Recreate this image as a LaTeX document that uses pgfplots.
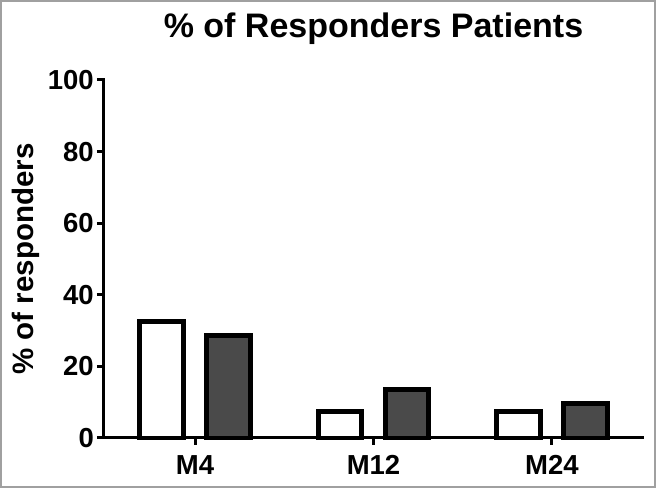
\documentclass[border=0pt]{standalone}
\usepackage{pgfplots}
\pgfplotsset{compat=1.18}
\usepackage{fontspec}
\setmainfont{Liberation Sans}
\definecolor{darkbar}{HTML}{4A4A4A}
\definecolor{framegray}{HTML}{A0A0A0}
\begin{document}
\begin{tikzpicture}
\useasboundingbox (-104pt,-51pt) rectangle (553pt,438pt);
\begin{axis}[
  at={(0pt,0pt)}, anchor=south west,
  scale only axis, width=539pt, height=358pt,
  xmin=-0.51, xmax=2.51, ymin=0, ymax=100,
  axis x line*=bottom, axis y line*=left,
  axis line style={line width=3pt, line cap=rect},
  xtick={0,1,2}, xticklabels={M4,M12,M24},
  ytick={0,20,40,60,80,100},
  tick align=outside,
  major tick length=7pt,
  tick style={line width=3pt, black},
  every tick label/.append style={font=\fontsize{27.5}{32}\selectfont\bfseries},
  /pgf/number format/assume math mode=true,
  yticklabel style={inner sep=0pt, xshift=-3pt},
  xticklabel style={inner sep=0pt, yshift=-10pt},
  title={\% of Responders Patients},
  title style={font=\fontsize{34}{40}\selectfont\bfseries, at={(0.5,1)}, anchor=base, yshift=36pt},
  ylabel={\% of responders},
  ylabel style={font=\fontsize{29.5}{34}\selectfont\bfseries, at={([xshift=-78pt]rel axis cs:0,0.5)}, anchor=center, rotate=0},
  ybar, bar width=43.5pt,
  clip=false,
]
\addplot[bar shift=-33.5pt, fill=white, draw=black, line width=4.8pt] coordinates {(0,32.5) (1,7.5) (2,7.5)};
\addplot[bar shift=33.5pt, fill=darkbar, draw=black, line width=4.8pt] coordinates {(0,28.6) (1,13.6) (2,9.6)};
\end{axis}
\draw[framegray, line width=1.5pt] (-103pt,-49pt) rectangle (551pt,437pt);
\end{tikzpicture}
\end{document}
